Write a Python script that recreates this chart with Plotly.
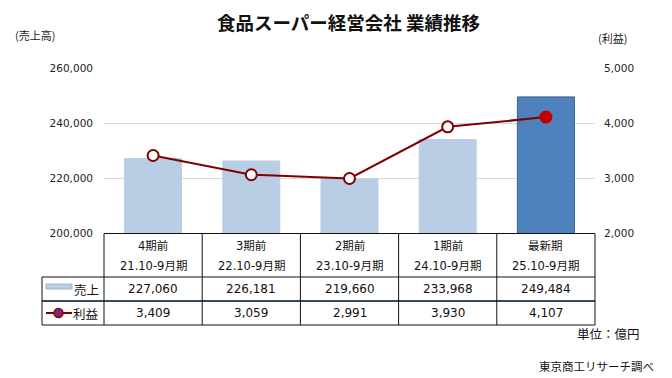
import plotly.graph_objects as go

periods = ["4期前", "3期前", "2期前", "1期前", "最新期"]
fiscal = ["21.10-9月期", "22.10-9月期", "23.10-9月期", "24.10-9月期", "25.10-9月期"]
sales = [227060, 226181, 219660, 233968, 249484]
profit = [3409, 3059, 2991, 3930, 4107]
sales_ticks = [200000, 220000, 240000, 260000]
profit_ticks = [2000, 3000, 4000, 5000]

W, H = 672, 378
L, R, T, B = 104, 595, 68, 233

def px(x):
    return (x - L) / (R - L)

def py(y):
    return (B - y) / (B - T)

JP = "Noto Sans CJK JP"
NUM = "DejaVu Sans, Noto Sans CJK JP"

bar_colors = ["#B9CDE5"] * (len(sales) - 1) + ["#4F81BD"]
bar_lines = ["#B9CDE5"] * (len(sales) - 1) + ["#385D8A"]
mk_fill = ["white"] * (len(profit) - 1) + ["#C00000"]
mk_line = ["#7F0000"] * (len(profit) - 1) + ["#C00000"]

fig = go.Figure()
fig.add_trace(go.Bar(x=periods, y=sales, marker=dict(color=bar_colors, line=dict(color=bar_lines, width=1)),
                     width=0.58, showlegend=False, hoverinfo="skip"))
fig.add_trace(go.Scatter(x=periods, y=profit, yaxis="y2", mode="lines+markers",
                         line=dict(color="#7F0000", width=2),
                         marker=dict(size=11, color=mk_fill, line=dict(color=mk_line, width=2)),
                         showlegend=False, hoverinfo="skip"))

fig.update_layout(
    template="none",
    width=W, height=H, margin=dict(l=L, r=W - R, t=T, b=H - B, autoexpand=False),
    paper_bgcolor="white", plot_bgcolor="white",
    xaxis=dict(showticklabels=False, showgrid=False, zeroline=False, showline=False, ticks="",
               automargin=False),
    yaxis=dict(range=[sales_ticks[0], sales_ticks[-1]], tickvals=sales_ticks,
               ticktext=[f"{v:,}" for v in sales_ticks], showgrid=True, gridcolor="#D9D9D9",
               zeroline=False, showline=False, ticks="", ticklabelstandoff=10, automargin=False,
               tickfont=dict(family=NUM, size=10.5, color="#222")),
    yaxis2=dict(range=[profit_ticks[0], profit_ticks[-1]], tickvals=profit_ticks,
                ticktext=[f"{v:,}" for v in profit_ticks], overlaying="y", side="right",
                showgrid=False, zeroline=False, showline=False, ticks="", ticklabelstandoff=8,
                automargin=False, tickfont=dict(family=NUM, size=10.5, color="#222")),
)

ann = []
def note(text, x, y, size, family=JP, xanchor="center", xref="paper", color="#111"):
    ann.append(dict(text=text, x=x, y=py(y), xref=xref, yref="paper", xanchor=xanchor, yanchor="middle",
                    showarrow=False, font=dict(family=family, size=size, color=color)))

note("<b>食品スーパー経営会社 業績推移</b>", px(348), 22, 18.5)
note("(売上高)", px(35), 35, 11, color="#222")
note("(利益)", px(612), 38, 11, color="#222")
note("単位：億円", px(642), 333, 12.5, xanchor="right")
note("東京商工リサーチ調べ", px(656), 366, 11.5, xanchor="right")

for i, p in enumerate(periods):
    note(p, p, 246, 11.5, family=NUM, xref="x")
    note(fiscal[i], p, 266, 11.5, family=NUM, xref="x")
    note(f"{sales[i]:,}", p, 289, 12, family=NUM, xref="x")
    note(f"{profit[i]:,}", p, 313, 12, family=NUM, xref="x")

note("売上", px(101), 289.5, 12.5, xanchor="right")
note("利益", px(101), 313.5, 12.5, xanchor="right")

shapes = []
def hline(x0, x1, y, color="#111", w=1):
    shapes.append(dict(type="line", xref="paper", yref="paper", x0=px(x0), x1=px(x1), y0=py(y), y1=py(y),
                       line=dict(color=color, width=w)))
def vline(x, y0, y1, color="#111", w=1):
    shapes.append(dict(type="line", xref="paper", yref="paper", x0=px(x), x1=px(x), y0=py(y0), y1=py(y1),
                       line=dict(color=color, width=w)))

hline(104, 595, 233.5)
hline(42, 595, 277)
hline(42, 595, 301, color="#3A4A5A", w=2)
hline(42, 595, 325)
vline(42, 277, 325)
col_edges = [104 + k * (595 - 104) / 5 for k in range(6)]
for xe in col_edges:
    vline(xe, 233.5, 325)

# legend swatches
shapes.append(dict(type="rect", xref="paper", yref="paper", x0=px(46), x1=px(72), y0=py(289), y1=py(284),
                   fillcolor="#B9CDE5", line=dict(color="#9FB6D3", width=1)))
hline(46, 72, 313, color="#7F0000", w=2)
shapes.append(dict(type="circle", xref="paper", yref="paper", x0=px(54), x1=px(63), y0=py(317.5), y1=py(308.5),
                   fillcolor="#7A2A7E", line=dict(color="#8B0000", width=1.5)))

fig.update_layout(annotations=ann, shapes=shapes)
fig.write_html("out.html", config={"displayModeBar": False},
               post_script="document.body.style.margin='0';document.body.style.padding='0';")
